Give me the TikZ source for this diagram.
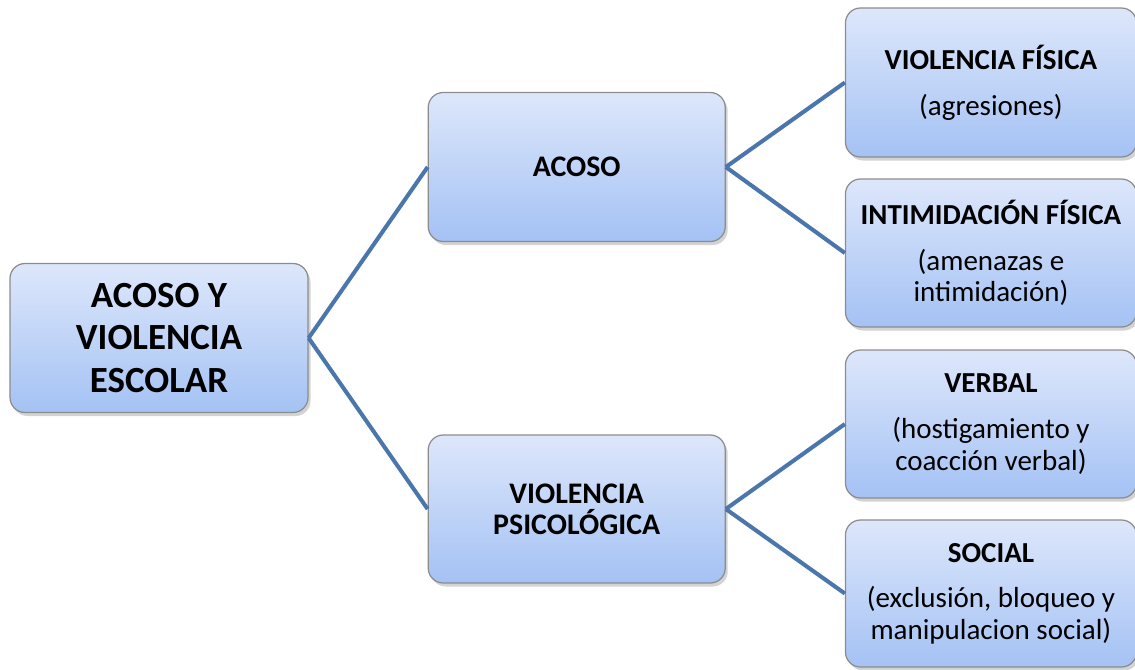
\documentclass[tikz,border=0pt]{standalone}
\usepackage{fontspec}
\setmainfont{Carlito}
\usetikzlibrary{positioning,shadows}

\definecolor{boxtop}{HTML}{DDE7FB}
\definecolor{boxbottom}{HTML}{A4C2F4}
\definecolor{boxline}{HTML}{8C8C8C}
\definecolor{linkblue}{HTML}{4A76AC}

\tikzset{
    box/.style={draw=boxline, line width=0.7pt, rounded corners=0.3cm, top color=boxtop, bottom color=boxbottom,
        drop shadow={shadow xshift=0.05cm, shadow yshift=-0.07cm, opacity=0.35}, align=center},
    link/.style={draw=linkblue, line width=2.3pt}
}

\begin{document}
\begin{tikzpicture}
    \useasboundingbox (-3.18,-6.62) rectangle (19.52,6.76);

    \node (root) [box, minimum width=5.96cm, minimum height=2.98cm, font=\fontsize{21}{24}\selectfont\bfseries] {ACOSO Y\\VIOLENCIA\\ESCOLAR};

    \node (acoso) [box, minimum width=5.94cm, minimum height=2.98cm, right=2.38cm of root, yshift=3.42cm, font=\fontsize{17}{18}\selectfont\bfseries] {ACOSO};
    \node (psico) [box, minimum width=5.94cm, minimum height=2.96cm, right=2.38cm of root, yshift=-3.42cm, font=\fontsize{17}{17.6}\selectfont\bfseries] {VIOLENCIA\\PSICOLÓGICA};

    \node (fisica) [box, minimum width=5.82cm, minimum height=2.98cm, right=2.38cm of acoso, yshift=1.69cm, font=\fontsize{16.5}{18}\selectfont] {\textbf{VIOLENCIA FÍSICA}\\[8pt](agresiones)};
    \node (intimid) [box, minimum width=5.82cm, minimum height=2.96cm, right=2.38cm of acoso, yshift=-1.72cm, font=\fontsize{16.5}{18}\selectfont] {\textbf{INTIMIDACIÓN FÍSICA}\\[8pt](amenazas e\\intimidación)};
    \node (verbal) [box, minimum width=5.82cm, minimum height=2.96cm, right=2.38cm of psico, yshift=1.7cm, font=\fontsize{16.5}{18}\selectfont] {\textbf{VERBAL}\\[8pt](hostigamiento y\\coacción verbal)};
    \node (social) [box, minimum width=5.82cm, minimum height=2.94cm, right=2.38cm of psico, yshift=-1.69cm, font=\fontsize{16.5}{18}\selectfont] {\textbf{SOCIAL}\\[8pt](exclusión, bloqueo y\\manipulacion social)};

    \draw [link] (root.east) -- (acoso.west);
    \draw [link] (root.east) -- (psico.west);
    \draw [link] (acoso.east) -- (fisica.west);
    \draw [link] (acoso.east) -- (intimid.west);
    \draw [link] (psico.east) -- (verbal.west);
    \draw [link] (psico.east) -- (social.west);
\end{tikzpicture}
\end{document}
